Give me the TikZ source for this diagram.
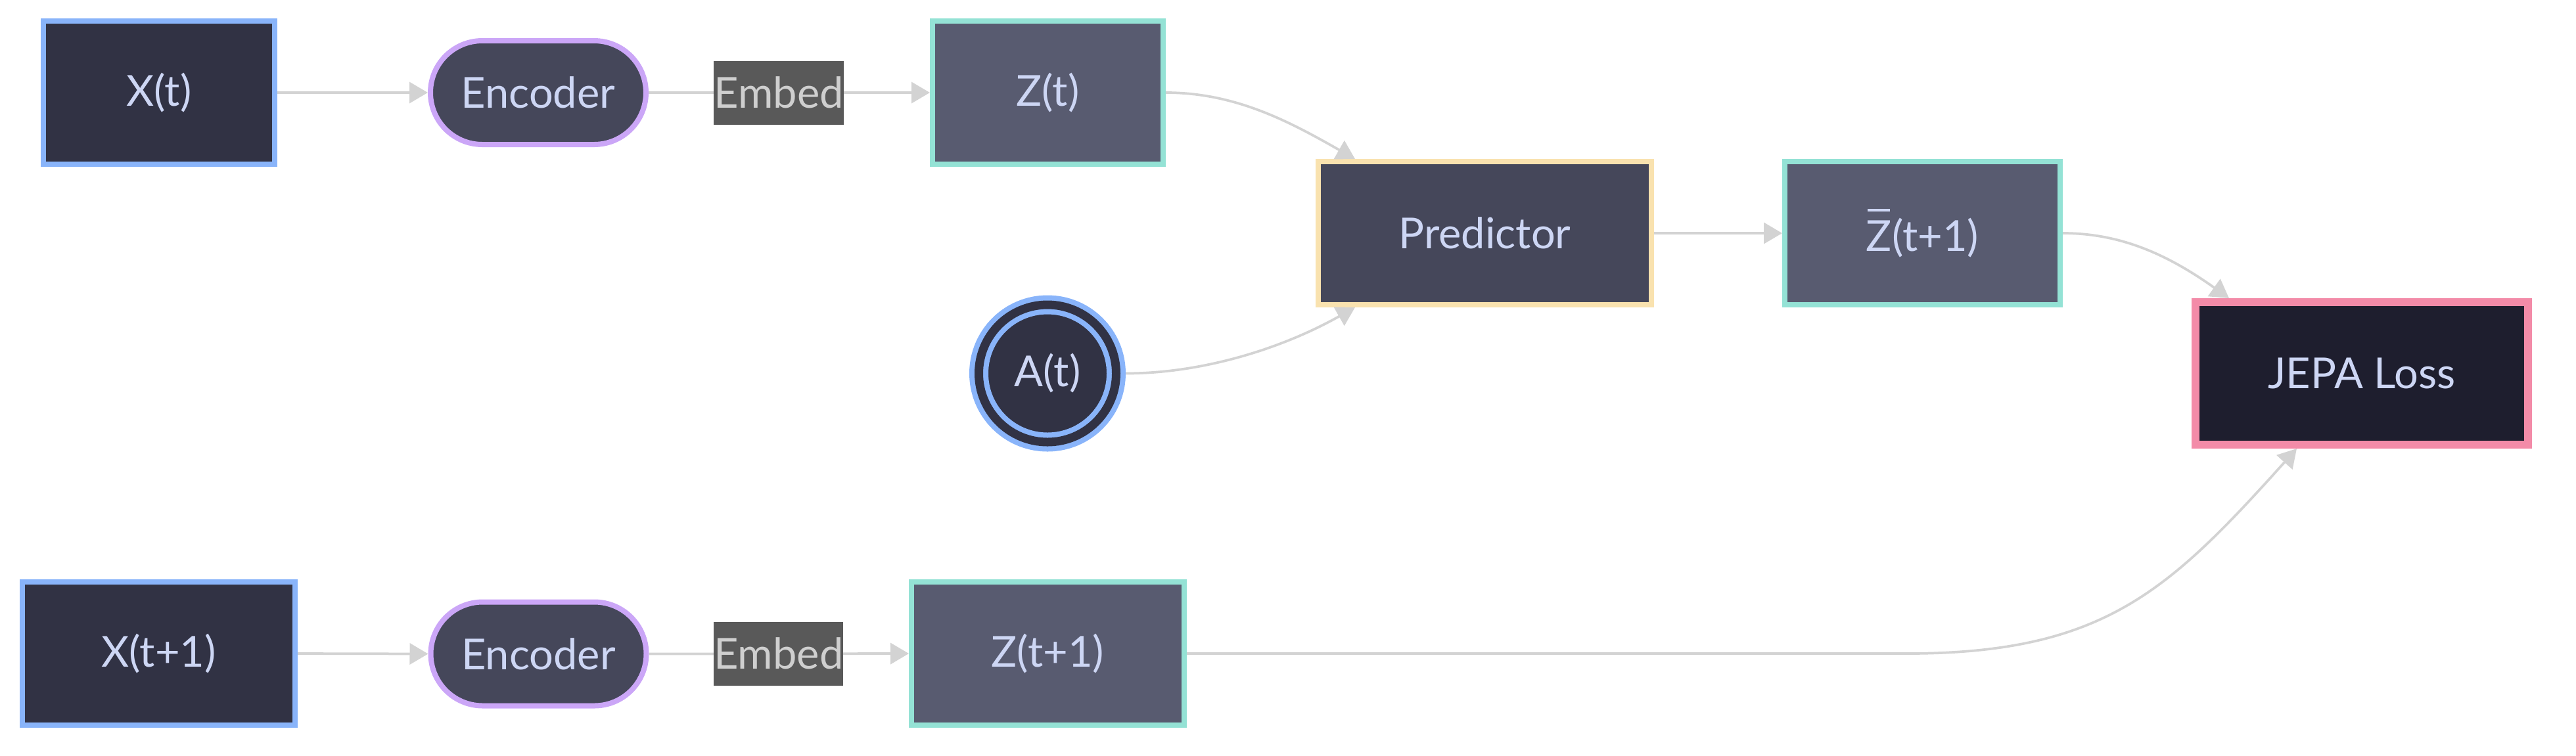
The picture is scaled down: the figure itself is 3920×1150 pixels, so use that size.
\documentclass[tikz,border=0pt]{standalone}
\usepackage{fontspec}
\setmainfont{Lato}
\usetikzlibrary{arrows.meta,shapes.misc,calc}
\definecolor{surfa}{HTML}{313244}
\definecolor{surfb}{HTML}{45475A}
\definecolor{surfc}{HTML}{585B70}
\definecolor{basec}{HTML}{1E1E2E}
\definecolor{cblue}{HTML}{89B4FA}
\definecolor{cmauve}{HTML}{CBA6F7}
\definecolor{cteal}{HTML}{94E2D5}
\definecolor{cyellow}{HTML}{F9E2AF}
\definecolor{cred}{HTML}{F38BA8}
\definecolor{txtc}{HTML}{CDD6F4}
\definecolor{edgec}{HTML}{D3D3D3}
\definecolor{lblbg}{HTML}{595959}
\definecolor{lbltxt}{HTML}{CFCFCF}
\begin{document}
\begin{tikzpicture}[x=0.2pt,y=-0.2pt,
  nodebox/.style={rectangle, draw, line width=1.6pt, inner sep=0pt, text=txtc,
    font=\fontsize{13}{15}\selectfont, minimum height=43.6pt},
  stadium/.style={rounded rectangle, draw=cmauve, fill=surfb, line width=1.6pt, inner sep=0pt,
    text=txtc, font=\fontsize{13}{15}\selectfont, minimum width=65.6pt, minimum height=31.6pt},
  lbl/.style={rectangle, fill=lblbg, text=lbltxt, inner sep=0pt, font=\fontsize{13}{15}\selectfont,
    minimum width=38.8pt, minimum height=19.4pt},
  edge/.style={draw=edgec, line width=0.75pt, -{Triangle[length=5.6pt,width=6.4pt]}},
  dcirc/.style={circle, draw=cblue, line width=1.6pt, double=surfa, double distance=2.6pt,
    fill=surfa, minimum size=41.8pt, inner sep=0pt, outer sep=2.9pt, text=txtc,
    font=\fontsize{13}{15}\selectfont}
]
\useasboundingbox (0,0) rectangle (3920,1150);
% top row
\node[nodebox, fill=surfa, draw=cblue, minimum width=70.4pt] (xt) at (242,141) {X(t)};
\node[stadium] (enc1) at (819,141) {Encoder};
\node[nodebox, fill=surfc, draw=cteal, minimum width=70.2pt] (zt) at (1594.5,141) {Z(t)};
% middle
\node[nodebox, fill=surfb, draw=cyellow, minimum width=101.4pt] (pred) at (2259.5,355) {Predictor};
\node[nodebox, fill=surfc, draw=cteal, minimum width=83.8pt] (zb) at (2925.5,355)
  {\makebox[0pt][l]{\hspace{0.03em}\raisebox{0.93em}{\rule{0.52em}{0.06em}}}Z(t+1)};
\node[dcirc] (at) at (1594,568.5) {A(t)};
\node[nodebox, fill=basec, draw=cred, line width=2.4pt, minimum width=101.2pt, minimum height=43.4pt] (loss) at (3594,568.5) {JEPA Loss};
% bottom row
\node[nodebox, fill=surfa, draw=cblue, minimum width=83pt] (xt1) at (241.5,995) {X(t+1)};
\node[stadium] (enc2) at (819.5,995.5) {Encoder};
\node[nodebox, fill=surfc, draw=cteal, minimum width=83pt] (zt1) at (1594.5,995) {Z(t+1)};
% edges
\draw[edge] (xt.east) -- (enc1.west);
\draw[edge] (enc1.east) -- node[lbl, pos=0.4626] (emb1) {Embed} (zt.west);
\draw[edge] (xt1.east) -- (enc2.west);
\draw[edge] (enc2.east) -- node[lbl, pos=0.499] (emb2) {Embed} (zt1.west);
\draw[edge] (zt.east) .. controls +(106,0) and +(-100,-57) .. ($(pred.north west)+(60,0)$);
\draw[edge] (at.east) .. controls +(118,0) and +(-110,62) .. ($(pred.south west)+(60,0)$);
\draw[edge] (pred.east) -- (zb.west);
\draw[edge] (zb.east) .. controls +(91,0) and +(-90,-64) .. ($(loss.north west)+(57,0)$);
\draw[edge] (zt1.east) -- ++(1095,0) .. controls +(300,0) and +(-195,217) .. ($(loss.south west)+(160,0)$);
\end{tikzpicture}
\end{document}
